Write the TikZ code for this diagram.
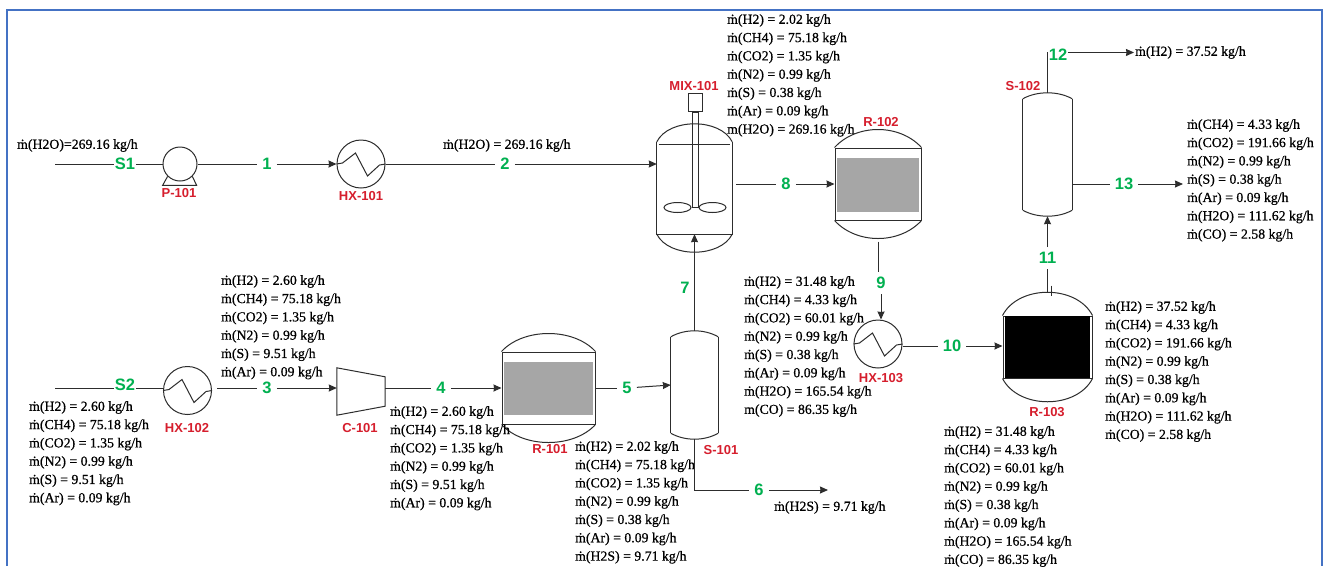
\documentclass[tikz,border=0pt]{standalone}
\usepackage{fontspec}
\setmainfont[FakeBold=0.7]{Liberation Serif}
\newfontfamily\labelfont{Liberation Sans}
\usepackage{xcolor}
\usetikzlibrary{arrows.meta,positioning,calc,shapes.geometric}
\definecolor{framecolor}{RGB}{68,114,196}
\definecolor{streamgreen}{RGB}{0,176,80}
\definecolor{tagred}{RGB}{214,30,45}
\definecolor{bedgrey}{RGB}{166,166,166}
\definecolor{pipedark}{RGB}{45,45,45}

\begin{document}
\begin{tikzpicture}[
      x=1pt, y=-1pt,
      pipe/.style={draw=pipedark, line width=1pt},
      flow/.style={pipe, -{Stealth[length=8pt,width=7pt,inset=0.5pt]}},
      stream/.style={font=\labelfont\fontsize{16.5}{16.5}\selectfont\bfseries, text=streamgreen, inner sep=5pt},
      feed/.style={stream, inner sep=0.5pt},
      tag/.style={font=\labelfont\fontsize{13}{13}\selectfont\bfseries, text=tagred, inner sep=0pt},
      rates/.style={font=\fontsize{13.8}{18.3}\selectfont, text=black, align=left, anchor=north west, inner sep=0pt},
      exch/.style={circle, pipe, minimum size=48pt, inner sep=0pt},
      shell/.style={rectangle, inner sep=0pt},
      reactor/.style={shell, pipe},
      bed/.style={rectangle, inner sep=0pt, fill=bedgrey},
    ]
    \useasboundingbox (0,0) rectangle (1324,566);
    \fill[white] (0,0) rectangle (1324,566);
    \draw[framecolor, line width=2pt] (7,566) -- (7,10) -- (1322,10) -- (1322,566);

    % equipment
    \node[circle, pipe, minimum size=34pt, inner sep=0pt] (p101) at (180,164) {};
    \node[exch] (hx101) at (361,164) {};
    \node[exch] (hx102) at (187.5,390.5) {};
    \node[exch] (hx103) at (878,344) {};
    \node[shell, minimum width=48pt, minimum height=47pt] (c101) at (361,391.5) {};
    \node[shell, minimum width=75pt, minimum height=92pt] (mix) at (694.5,188) {};
    \node[shell, minimum width=47pt, minimum height=96pt] (s101) at (694.5,385) {};
    \node[shell, minimum width=49pt, minimum height=111pt] (s102) at (1047.5,154.5) {};
    \node[reactor, minimum width=93pt, minimum height=72pt] (r101) at (548.5,388) {};
    \node[reactor, minimum width=86pt, minimum height=72pt] (r102) at (878,184) {};
    \node[reactor, minimum width=89pt, minimum height=62pt] (r103) at (1047.5,347) {};
    \node[bed, minimum width=89pt, minimum height=53pt] (bed101) at (548.5,388.5) {};
    \node[bed, minimum width=82pt, minimum height=54pt] (bed102) at (878,185) {};
    \node[bed, fill=black, minimum width=85pt, minimum height=62pt] (bed103) at (1047.5,347) {};

    \foreach \v/\h/\c in {mix/24/12, r101/24/22, r102/24/22, r103/31/16, s101/8/14, s102/8/14} {
      \draw[pipe] (\v.north west) .. controls +(\c,-\h) and +(-\c,-\h) .. (\v.north east);
      \draw[pipe] (\v.south west) .. controls +(\c,\h) and +(-\c,\h) .. (\v.south east);
    }
    \foreach \v in {s101, s102} {
      \draw[pipe] (\v.north west) -- (\v.south west);
      \draw[pipe] (\v.north east) -- (\v.south east);
    }
    \foreach \v in {hx101, hx102, hx103} {
      \draw[pipe] (\v.west) -- ++(6,-1) -- ++(13,-10) -- ++(12,23) -- ++(12,-11) -- (\v.east);
    }
    \draw[pipe] (p101.225) -- ++(-5,9) -- ++(34,0) -- (p101.-45);
    \draw[pipe] (c101.north west) -- ([yshift=-9pt]c101.north east) -- ([yshift=9pt]c101.south east) -- (c101.south west) -- cycle;

    % mixer internals
    \draw[pipe] (mix.north west) -- (mix.south west) -- (mix.south east) -- (mix.north east);
    \draw[pipe] ([xshift=2pt,yshift=-3pt]mix.north west) -- ([xshift=-2pt,yshift=-3pt]mix.north east);
    \node[rectangle, pipe, minimum width=6pt, minimum height=95pt, inner sep=0pt] (shaft) at (695,159.5) {};
    \node[rectangle, pipe, minimum width=14pt, minimum height=18pt, inner sep=0pt, above=0pt of shaft] (motor) {};
    \node[ellipse, pipe, minimum width=27pt, minimum height=10pt, inner sep=0pt, left=0pt of shaft.south west] (blade1) {};
    \node[ellipse, pipe, minimum width=27pt, minimum height=10pt, inner sep=0pt, right=0pt of shaft.south east] (blade2) {};

    % equipment tags
    \node[tag] (tagp101) at (179,193) {P-101};
    \node[tag] (taghx101) at (361,196) {HX-101};
    \node[tag] (taghx102) at (187,428) {HX-102};
    \node[tag] (taghx103) at (881,378) {HX-103};
    \node[tag] (tagc101) at (360,428) {C-101};
    \node[tag] (tagmix) at (694,86) {MIX-101};
    \node[tag] (tagr101) at (550,449) {R-101};
    \node[tag] (tagr102) at (881,122) {R-102};
    \node[tag] (tagr103) at (1047,412) {R-103};
    \node[tag] (tags101) at (721,450) {S-101};
    \node[tag] (tags102) at (1023,86) {S-102};

    % stream numbers
    \node[feed] (lbls1) at (125,164) {S1};
    \node[feed] (lbls2) at (125,385) {S2};
    \node[stream] (lbl1) at (267,164) {1};
    \node[stream] (lbl2) at (505,164) {2};
    \node[stream] (lbl3) at (267,388) {3};
    \node[stream] (lbl4) at (441,388) {4};
    \node[stream] (lbl5) at (627,388) {5};
    \node[stream] (lbl6) at (759,490) {6};
    \node[stream] (lbl7) at (685,288) {7};
    \node[stream] (lbl8) at (786,184) {8};
    \node[stream] (lbl9) at (881,283) {9};
    \node[stream] (lbl10) at (952,346) {10};
    \node[stream] (lbl11) at (1047.5,258) {11};
    \node[feed] (lbl12) at (1058,55) {12};
    \node[stream] (lbl13) at (1124,184) {13};

    % stream tables
    \node[rates] (lists1) at (17,139) {ṁ(H2O)=269.16 kg/h};
    \node[rates] (list2) at (443,139) {ṁ(H2O) = 269.16 kg/h};
    \node[rates] (lists2) at (29,401) {ṁ(H2) = 2.60 kg/h\\ṁ(CH4) = 75.18 kg/h\\ṁ(CO2) = 1.35 kg/h\\ṁ(N2) = 0.99 kg/h\\ṁ(S) = 9.51 kg/h\\ṁ(Ar) = 0.09 kg/h};
    \node[rates] (list3) at (221,275) {ṁ(H2) = 2.60 kg/h\\ṁ(CH4) = 75.18 kg/h\\ṁ(CO2) = 1.35 kg/h\\ṁ(N2) = 0.99 kg/h\\ṁ(S) = 9.51 kg/h\\ṁ(Ar) = 0.09 kg/h};
    \node[rates] (list4) at (390,406) {ṁ(H2) = 2.60 kg/h\\ṁ(CH4) = 75.18 kg/h\\ṁ(CO2) = 1.35 kg/h\\ṁ(N2) = 0.99 kg/h\\ṁ(S) = 9.51 kg/h\\ṁ(Ar) = 0.09 kg/h};
    \node[rates] (list5) at (575,441) {ṁ(H2) = 2.02 kg/h\\ṁ(CH4) = 75.18 kg/h\\ṁ(CO2) = 1.35 kg/h\\ṁ(N2) = 0.99 kg/h\\ṁ(S) = 0.38 kg/h\\ṁ(Ar) = 0.09 kg/h\\ṁ(H2S) = 9.71 kg/h};
    \node[rates] (list6) at (774,501) {ṁ(H2S) = 9.71 kg/h};
    \node[rates] (list8) at (727,14) {ṁ(H2) = 2.02 kg/h\\ṁ(CH4) = 75.18 kg/h\\ṁ(CO2) = 1.35 kg/h\\ṁ(N2) = 0.99 kg/h\\ṁ(S) = 0.38 kg/h\\ṁ(Ar) = 0.09 kg/h\\m(H2O) = 269.16 kg/h};
    \node[rates] (list9) at (744,276) {ṁ(H2) = 31.48 kg/h\\ṁ(CH4) = 4.33 kg/h\\ṁ(CO2) = 60.01 kg/h\\ṁ(N2) = 0.99 kg/h\\ṁ(S) = 0.38 kg/h\\ṁ(Ar) = 0.09 kg/h\\ṁ(H2O) = 165.54 kg/h\\m(CO) = 86.35 kg/h};
    \node[rates] (list10) at (944,426) {ṁ(H2) = 31.48 kg/h\\ṁ(CH4) = 4.33 kg/h\\ṁ(CO2) = 60.01 kg/h\\ṁ(N2) = 0.99 kg/h\\ṁ(S) = 0.38 kg/h\\ṁ(Ar) = 0.09 kg/h\\ṁ(H2O) = 165.54 kg/h\\ṁ(CO) = 86.35 kg/h};
    \node[rates] (list11) at (1105,301) {ṁ(H2) = 37.52 kg/h\\ṁ(CH4) = 4.33 kg/h\\ṁ(CO2) = 191.66 kg/h\\ṁ(N2) = 0.99 kg/h\\ṁ(S) = 0.38 kg/h\\ṁ(Ar) = 0.09 kg/h\\ṁ(H2O) = 111.62 kg/h\\ṁ(CO) = 2.58 kg/h};
    \node[rates] (list12) at (1135,46) {ṁ(H2) = 37.52 kg/h};
    \node[rates] (list13) at (1187,119) {ṁ(CH4) = 4.33 kg/h\\ṁ(CO2) = 191.66 kg/h\\ṁ(N2) = 0.99 kg/h\\ṁ(S) = 0.38 kg/h\\ṁ(Ar) = 0.09 kg/h\\ṁ(H2O) = 111.62 kg/h\\ṁ(CO) = 2.58 kg/h};

    \coordinate (ins1) at (55,164);
    \coordinate (ins2) at (55,388);
    \coordinate (end6) at (828,490);

    % connectors
    \draw[pipe] (ins1) -- (lbls1);
    \draw[pipe] (lbls1) -- (p101);
    \draw[pipe] (p101) -- (lbl1);
    \draw[flow] (lbl1) -- (hx101);
    \draw[pipe] (hx101) -- (lbl2);
    \draw[flow] (lbl2) -- (lbl2 -| mix.west);
    \draw[pipe] (ins2) -- (ins2 -| lbls2.west);
    \draw[pipe] (lbls2.east |- ins2) -- (ins2 -| hx102.west);
    \draw[pipe, shorten <=5pt] (lbl3 -| hx102.east) -- (lbl3);
    \draw[flow] (lbl3) -- (lbl3 -| c101.west);
    \draw[pipe] (lbl4 -| c101.east) -- (lbl4);
    \draw[flow] (lbl4) -- (r101);
    \draw[pipe] (r101) -- (lbl5);
    \draw[flow] (lbl5) -- (s101.west);
    \draw[pipe] ([yshift=-6pt]s101.south) |- (lbl6);
    \draw[flow] (lbl6) -- (end6);
    \draw[flow] ([yshift=6pt]s101.north) -- (mix.south);
    \draw[pipe, shorten <=4pt] (mix.east |- lbl8) -- (lbl8);
    \draw[flow] (lbl8) -- (lbl8 -| r102.west);
    \draw[pipe] ([yshift=-21pt]r102.south) -- (lbl9.north -| r102.south);
    \draw[flow] (lbl9.south) -- (lbl9.south |- hx103.north);
    \draw[pipe] (lbl10 -| hx103.east) -- (lbl10);
    \draw[flow] (lbl10) -- (lbl10 -| r103.west);
    \draw[pipe] ([yshift=23pt]r103.north) -- (lbl11);
    \draw[pipe] ([xshift=4pt,yshift=30pt]r103.north) -- ++(0,10);
    \draw[flow] (lbl11) -- ([yshift=-6pt]s102.south);
    \draw[pipe] ([yshift=6pt]s102.north) -- (s102.north |- list12.west);
    \draw[flow, shorten >=1pt] (lbl12.east |- list12.west) -- (list12.west);
    \draw[pipe] (s102.east |- lbl13) -- (lbl13);
    \draw[flow, shorten >=4pt] (lbl13) -- (lbl13 -| list13.west);
  \end{tikzpicture}
\end{document}
